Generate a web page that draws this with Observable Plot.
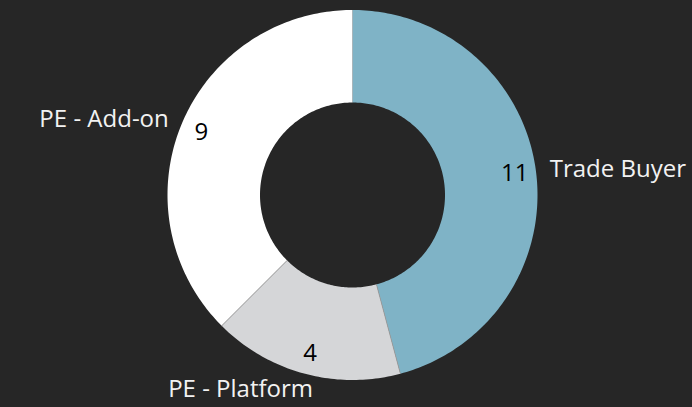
<!DOCTYPE html>
<html><head><meta charset="utf-8">
<script src="https://cdn.jsdelivr.net/npm/d3@7"></script>
<script src="https://cdn.jsdelivr.net/npm/@observablehq/plot@0.6"></script>
<style>
html,body{margin:0;padding:0;background:#262626;}
</style></head><body><div id="chart"></div>
<script>
const categories = ["Trade Buyer", "PE - Platform", "PE - Add-on"];
const values = [11, 4, 9];
const colors = ["#7fb3c6", "#d5d6d8", "#ffffff"];

const W = 692, H = 407, cx = 352, cy = 194.5, R = 185, inner = 0.5;
const total = d3.sum(values);
let acc = 0;
const slices = categories.map((c, i) => {
  const a0 = acc / total * 2 * Math.PI; acc += values[i];
  const a1 = acc / total * 2 * Math.PI;
  return {category: c, value: values[i], a0, a1, mid: (a0 + a1) / 2};
});
const poly = [];
for (const s of slices) {
  const n = Math.max(8, Math.ceil((s.a1 - s.a0) / (2 * Math.PI) * 360));
  for (let k = 0; k <= n; k++) { const a = s.a0 + (s.a1 - s.a0) * k / n; poly.push({category: s.category, x: Math.sin(a), y: Math.cos(a)}); }
  for (let k = n; k >= 0; k--) { const a = s.a0 + (s.a1 - s.a0) * k / n; poly.push({category: s.category, x: inner * Math.sin(a), y: inner * Math.cos(a)}); }
}
const bounds = slices.slice(0, -1).map(s => ({x1: inner * Math.sin(s.a1), y1: inner * Math.cos(s.a1), x2: Math.sin(s.a1), y2: Math.cos(s.a1)}));
const vr = 0.885, lr = 1.075;
const valueLabels = slices.map(s => ({text: String(s.value), x: vr * Math.sin(s.mid), y: vr * Math.cos(s.mid)}));
const catLabels = slices.map(s => ({text: s.category, x: lr * Math.sin(s.mid), y: lr * Math.cos(s.mid), sin: Math.sin(s.mid), cos: Math.cos(s.mid)}));
const font = "Open Sans";
const fs = 24;
const chart = Plot.plot({
  width: W, height: H,
  margin: 0,
  x: {domain: [(0 - cx) / R, (W - cx) / R], axis: null},
  y: {domain: [(cy - H) / R, cy / R], axis: null},
  color: {domain: categories, range: colors},
  style: {background: "#262626", fontFamily: font},
  marks: [
    Plot.line(poly, {x: "x", y: "y", z: "category", fill: "category", stroke: null, curve: "linear-closed"}),
    Plot.link(bounds, {x1: "x1", y1: "y1", x2: "x2", y2: "y2", stroke: "#9a9a9a", strokeWidth: 0.8}),
    Plot.text(valueLabels, {x: "x", y: "y", text: "text", fill: "#000000", fontSize: fs, fontFamily: font}),
    Plot.text(catLabels.filter(d => d.sin >= 0), {x: "x", y: "y", text: "text", fill: "#f2f2f2", fontSize: fs, textAnchor: "start", fontFamily: font}),
    Plot.text(catLabels.filter(d => d.sin < 0 && d.cos > -0.8), {x: "x", y: "y", text: "text", fill: "#f2f2f2", fontSize: fs, textAnchor: "end", fontFamily: font}),
    Plot.text(catLabels.filter(d => d.sin < 0 && d.cos <= -0.8), {x: "x", y: "y", text: "text", fill: "#f2f2f2", fontSize: fs, textAnchor: "end", dx: 12, dy: 2, fontFamily: font})
  ]
});
document.getElementById("chart").appendChild(chart);
</script>
</body></html>
